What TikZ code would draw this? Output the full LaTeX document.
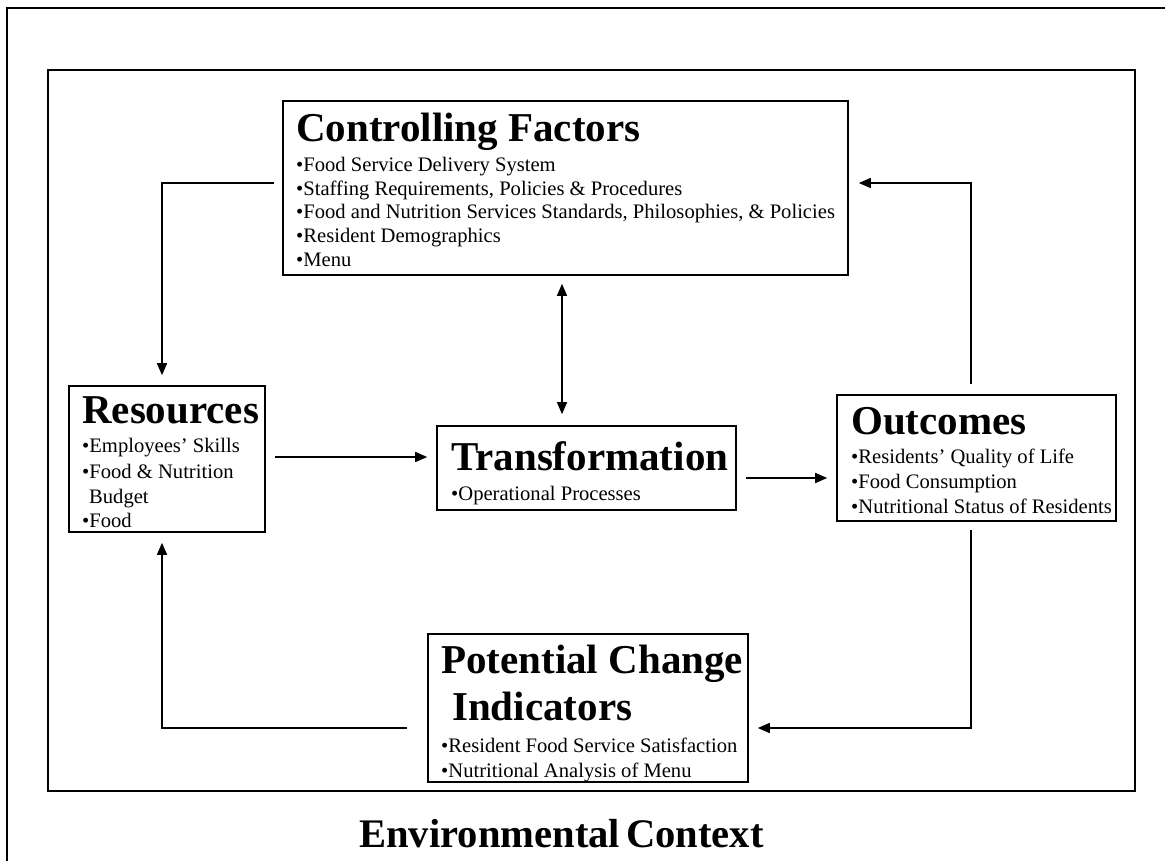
\documentclass[tikz,border=0pt]{standalone}
\usepackage{fontspec}
\setmainfont{Liberation Serif}
\usetikzlibrary{arrows.meta}
\begin{document}
\begin{tikzpicture}[x=1pt,y=-1pt,
  box/.style={draw, line width=1.6pt, inner sep=0pt, rectangle},
  ttl/.style={anchor=base west, inner sep=0pt, font=\fontsize{41}{47}\selectfont\bfseries},
  itm/.style={anchor=base west, inner sep=0pt, font=\fontsize{20.6}{24}\selectfont},
  frame/.style={line width=1.8pt},
  conn/.style={line width=1.5pt},
  arr/.style={conn, -{Triangle[length=12pt,width=10pt]}},
  darr/.style={conn, {Triangle[length=12pt,width=10pt]}-{Triangle[length=12pt,width=10pt]}}]
\useasboundingbox (0,0) rectangle (1165,861);
% frames
\draw[frame] (7,861) -- (7,8) -- (1165,8);
\draw[frame] (48,70) rectangle (1135,791);
% boxes
\node[box, minimum width=565pt, minimum height=174pt] (cf) at (565.5,188) {};
\node[box, minimum width=196pt, minimum height=146pt] (res) at (167,459) {};
\node[box, minimum width=299pt, minimum height=84pt] (tr) at (586.5,468) {};
\node[box, minimum width=279pt, minimum height=126pt] (out) at (976.5,458) {};
\node[box, minimum width=320pt, minimum height=148pt] (pci) at (588,708) {};
% Controlling factors text
\node[ttl] (cft) at (296,142) {Controlling Factors};
\node[itm] (cf1) at (296,172) {•Food Service Delivery System};
\node[itm] (cf2) at (296,195.5) {•Staffing Requirements, Policies \& Procedures};
\node[itm] (cf3) at (296,219) {•Food and Nutrition Services Standards, Philosophies, \& Policies};
\node[itm] (cf4) at (296,243) {•Resident Demographics};
\node[itm] (cf5) at (296,267) {•Menu};
% Resources
\node[ttl] (rest) at (82,423) {Resources};
\node[itm] (res1) at (82,452) {•Employees’ Skills};
\node[itm] (res2) at (82,478) {•Food \& Nutrition};
\node[itm] (res3) at (89,503) {Budget};
\node[itm] (res4) at (82,527) {•Food};
% Transformation
\node[ttl] (trt) at (451,470) {Transformation};
\node[itm] (tr1) at (451,500) {•Operational Processes};
% Outcomes
\node[ttl] (outt) at (851,434) {Outcomes};
\node[itm] (out1) at (851,463) {•Residents’ Quality of Life};
\node[itm] (out2) at (851,488) {•Food Consumption};
\node[itm] (out3) at (851,513) {•Nutritional Status of Residents};
% Potential change indicators
\node[ttl] (pcit1) at (441,673) {Potential Change};
\node[ttl] (pcit2) at (452,720) {Indicators};
\node[itm] (pci1) at (441,752) {•Resident Food Service Satisfaction};
\node[itm] (pci2) at (441,777) {•Nutritional Analysis of Menu};
% Environmental context
\node[ttl, font=\fontsize{40.6}{47}\selectfont\bfseries] (env) at (359,847) {Environmental\hspace{0.15em}Context};
% connectors
\draw[arr] ([xshift=-8pt,yshift=5pt]cf.west) -| ([xshift=-5pt,yshift=10pt]res.north);
\draw[arr] ([xshift=-5.5pt,yshift=10pt]out.north) |- ([xshift=10pt,yshift=5pt]cf.east);
\draw[darr] ([xshift=-3.5pt,yshift=-8pt]cf.south) -- ([xshift=-24.5pt,yshift=11pt]tr.north);
\draw[arr] ([xshift=9pt,yshift=2pt]res.east) -- ([xshift=-9pt,yshift=2pt]tr.west |- res.east);
\draw[arr] ([xshift=9pt,yshift=-10pt]tr.east) -- ([xshift=-9pt,yshift=-10pt]out.west |- tr.east);
\draw[arr] ([xshift=-5.5pt,yshift=-8pt]out.south) |- ([xshift=9pt,yshift=-20pt]pci.east);
\draw[arr] ([xshift=-20pt,yshift=-20pt]pci.west) -| ([xshift=-5pt,yshift=-10pt]res.south);
\end{tikzpicture}
\end{document}
